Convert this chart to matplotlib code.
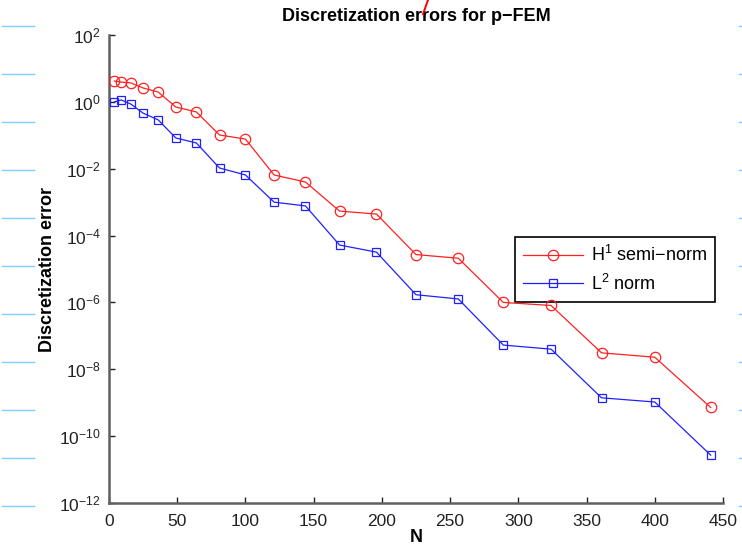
#!/usr/bin/env python

'''
discretization errors of p-FEM vs number of unknowns, log scale
'''

import matplotlib
matplotlib.use('Agg')
import matplotlib.pyplot as plt
from matplotlib.lines import Line2D

plt.rcParams['font.family'] = ['Liberation Sans', 'DejaVu Sans']
plt.rcParams['mathtext.default'] = 'regular'

N = [4, 9, 16, 25, 36, 49, 64, 81, 100, 121, 144, 169, 196, 225, 256,
     289, 324, 361, 400, 441]
H1_ERR = [4.2, 3.9, 3.7, 2.6, 1.97, 0.70, 0.50, 0.102, 0.077, 6.5e-3,
          4.0e-3, 5.4e-4, 4.4e-4, 2.7e-5, 2.1e-5, 1.0e-6, 8.1e-7, 3.1e-8,
          2.3e-8, 7.2e-10]
L2_ERR = [1.0, 1.14, 0.86, 0.46, 0.29, 0.083, 0.059, 0.0105, 0.0065,
          1.0e-3, 7.7e-4, 5.2e-5, 3.2e-5, 1.7e-6, 1.27e-6, 5.3e-8, 4.0e-8,
          1.4e-9, 1.05e-9, 2.7e-11]
X_TICKS = [0, 50, 100, 150, 200, 250, 300, 350, 400, 450]
Y_EXPONENTS = [2, 0, -2, -4, -6, -8, -10, -12]

# faint marks left over on the scanned page
MARK_Y = [26, 74, 122, 170, 218, 266, 314, 362, 410, 458, 506]

W, H = 742, 551
fig = plt.figure(figsize=(W / 100., H / 100.), dpi=100)
ax = fig.add_axes([109. / W, 1 - 503. / H, 614. / W, 468. / H])

ax.semilogy(N, H1_ERR, '-o', color='#ff2020', lw=0.9, ms=7.5,
            mfc='none', mew=0.9, label='H$^1$ semi\u2212norm', zorder=3)
ax.semilogy(N, L2_ERR, '-s', color='#2020ff', lw=0.9, ms=6,
            mfc='none', mew=0.9, label='L$^2$ norm', zorder=3)

ax.set_xlim(0, 450)
ax.set_ylim(1e-12, 1e2)
ax.set_xticks(X_TICKS)
ax.set_xticklabels([str(t) for t in X_TICKS])
ax.set_yticks([10. ** e for e in Y_EXPONENTS])
ax.set_yticklabels(['$10^{%s}$' % str(e).replace('-', '\u2212')
                    for e in Y_EXPONENTS])
ax.minorticks_off()
ax.tick_params(direction='in', length=4, width=1, labelsize=12.5,
               colors='#222222')
ax.tick_params(axis='x', pad=8)
ax.tick_params(axis='y', pad=6)
for side in ('top', 'right'):
    ax.spines[side].set_visible(False)
for side in ('left', 'bottom'):
    ax.spines[side].set_color('#606060')
    ax.spines[side].set_linewidth(1.8)

ax.set_title('Discretization errors for p\u2212FEM', fontsize=13,
             fontweight='bold', pad=10)
ax.set_xlabel('N', fontsize=13, fontweight='bold', labelpad=0)
ax.set_ylabel('Discretization error', fontsize=13, fontweight='bold',
              labelpad=2)

leg = ax.legend(loc='upper left', bbox_to_anchor=(0.661, 0.568),
                fontsize=13, fancybox=False, framealpha=1,
                edgecolor='black', borderpad=0.45, labelspacing=0.45,
                handlelength=3.3, handletextpad=0.45, borderaxespad=0)
leg.get_frame().set_linewidth(1.2)
leg.set_zorder(2)

for y in MARK_Y:
    fy = 1 - y / float(H)
    fig.add_artist(Line2D([2. / W, 34. / W], [fy, fy], color='#7fd0ff',
                          lw=1))
    fig.add_artist(Line2D([739. / W, 742. / W], [fy, fy], color='#7fd0ff',
                          lw=1))
fig.add_artist(Line2D([423. / W, 428. / W], [1 - 14. / H, 1.0],
                      color='#ff0000', lw=1.4))

fig.savefig('out.png', dpi=100)
plt.close(fig)
